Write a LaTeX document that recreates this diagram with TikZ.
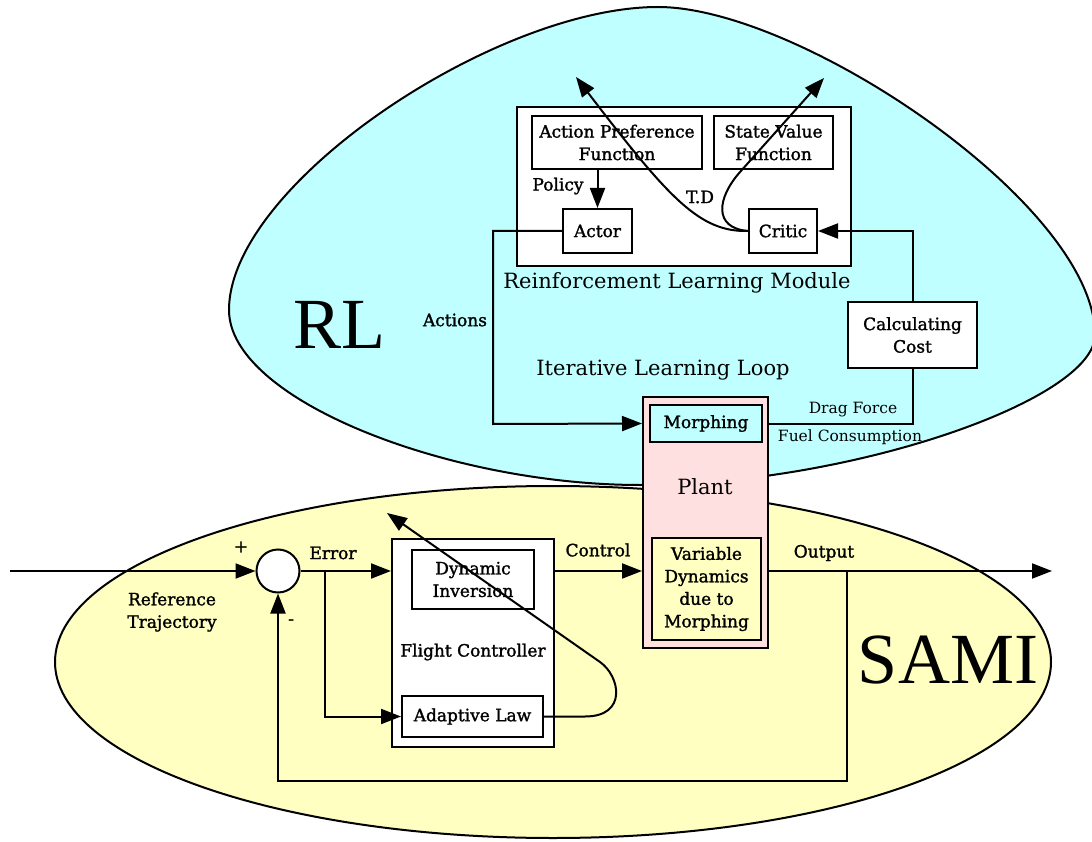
\documentclass[tikz,border=0pt]{standalone}
\usepackage{fontspec}
\setmainfont{DejaVu Serif}
\newfontfamily\boxfont{DejaVu Serif}[FakeBold=1.5]
\newfontfamily\bigfont{Liberation Serif}
\usetikzlibrary{arrows.meta,calc}
\definecolor{rlc}{RGB}{192,255,255}
\definecolor{samic}{RGB}{255,255,194}
\definecolor{plantc}{RGB}{255,224,224}
\begin{document}
\begin{tikzpicture}[x=1pt,y=-1pt,
  box/.style={draw, line width=2pt, fill=white, inner sep=0pt, align=center, font=\boxfont\fontsize{17}{22.5}\selectfont},
  lab/.style={inner sep=0pt, align=center, font=\boxfont\fontsize{17}{22.5}\selectfont},
  biglab/.style={inner sep=0pt, font=\fontsize{21}{25}\selectfont},
  smalllab/.style={inner sep=0pt, font=\fontsize{15.5}{18}\selectfont},
  huge/.style={inner sep=0pt, font=\bigfont\fontsize{72}{80}\selectfont},
  conn/.style={line width=2pt},
  arr/.style={line width=2pt, -{Triangle[length=20pt,width=15pt]}},
  region/.style={line width=2pt}
  ]
\useasboundingbox (0,0) rectangle (1092,842);

% regions
\draw[region, fill=samic] (553,662) ellipse [x radius=498, y radius=176];
\draw[region, fill=rlc] (658,7) .. controls (800,7) and (1095,205) .. (1095,335)
  .. controls (1095,400) and (850,485) .. (640,485)
  .. controls (450,485) and (229,400) .. (229,310)
  .. controls (229,185) and (495,7) .. (658,7) -- cycle;

\node[huge] (rl) at (339,325) {RL};
\node[huge] (sami) at (948,660) {SAMI};

% RL module
\node[box, minimum width=334pt, minimum height=159pt] (rlm) at (684,186.5) {};
\node[box, minimum width=170pt, minimum height=53pt] (apf) at (617,142.5) {Action Preference\\Function};
\node[box, minimum width=119pt, minimum height=53pt] (svf) at (773.5,142.5) {State Value\\Function};
\node[box, minimum width=69pt, minimum height=44pt] (actor) at (597.5,231) {Actor};
\node[box, minimum width=68pt, minimum height=44pt] (critic) at (783,231) {Critic};
\node[biglab] (rlmlab) at (677,283) {Reinforcement Learning Module};
\node[lab] (policy) at (558,186) {Policy};
\node[lab] (td) at (700,197) {T.D};

\node[box, minimum width=129pt, minimum height=66pt] (calc) at (912.5,335) {Calculating\\Cost};
\node[lab] (actions) at (455,320) {Actions};
\node[biglab] (loop) at (663,370) {Iterative Learning Loop};

% plant
\node[box, fill=plantc, minimum width=125pt, minimum height=251pt] (plant) at (705.5,522.5) {};
\node[box, fill=rlc, minimum width=112pt, minimum height=37pt] (morph) at (706,423.5) {Morphing};
\node[box, fill=samic, minimum width=109pt, minimum height=102pt] (vdyn) at (706.5,589) {Variable\\Dynamics\\due to\\Morphing};
\node[biglab] (plantlab) at (705,487) {Plant};
\node[smalllab] (drag) at (853,410) {Drag Force};
\node[smalllab] (fuel) at (850,437) {Fuel Consumption};

% SAMI part
\node[draw, circle, line width=2pt, fill=white, minimum size=43pt, inner sep=0pt] (sum) at (278,571) {};
\node[box, minimum width=162pt, minimum height=208pt] (fc) at (473,643) {};
\node[box, minimum width=122pt, minimum height=59pt] (dyninv) at (473,579.5) {Dynamic\\Inversion};
\node[box, minimum width=141pt, minimum height=41pt] (adapt) at (472.5,716.5) {Adaptive Law};
\node[lab] (fclab) at (473,652) {Flight Controller};
\node[lab] (plus) at (241,547) {+};
\node[lab] (minus) at (291,622) {-};
\node[lab] (reftraj) at (172,612) {Reference\\Trajectory};
\node[lab] (error) at (333,553) {Error};
\node[lab] (control) at (598,550) {Control};
\node[lab] (output) at (824,553) {Output};

% coordinates
\coordinate (in) at (10,571);
\coordinate (out) at (1052,571);
\coordinate (br1) at (325,571);
\coordinate (br2) at (847,571);
\coordinate (fbc) at (847,781);
\coordinate (xa) at (493,424);
\coordinate (tipA) at (576,77);
\coordinate (tipB) at (824,78);
\coordinate (tipC) at (387,513);

% connectors RL
\draw[arr] (apf.south -| actor.north) -- (actor.north);
\draw[arr] (critic.west) .. controls (700,232) and (670,200) .. (tipA);
\draw[arr] (critic.west) .. controls (713,228) and (717,198) .. (740,172) -- (tipB);
\draw[arr] (actor.west) -| (xa) -- (morph -| plant.west);
\draw[conn] (morph -| plant.east) -| (calc.south);
\draw[arr] (calc.north) |- (critic.east);

% connectors SAMI
\draw[arr] (in) -- (sum.west);
\draw[arr] (sum.east) -- (sum -| fc.west);
\draw[arr] (br1) |- (adapt.west);
\draw[arr] (sum -| fc.east) -- (sum -| plant.west);
\draw[arr] (sum -| plant.east) -- (out);
\draw[arr] (br2) -- (fbc) -| (sum.south);
\draw[arr] (adapt.east) -- (585,716.5) .. controls (628,716.5) and (620,676) .. (600,662) -- (tipC);
\end{tikzpicture}
\end{document}
